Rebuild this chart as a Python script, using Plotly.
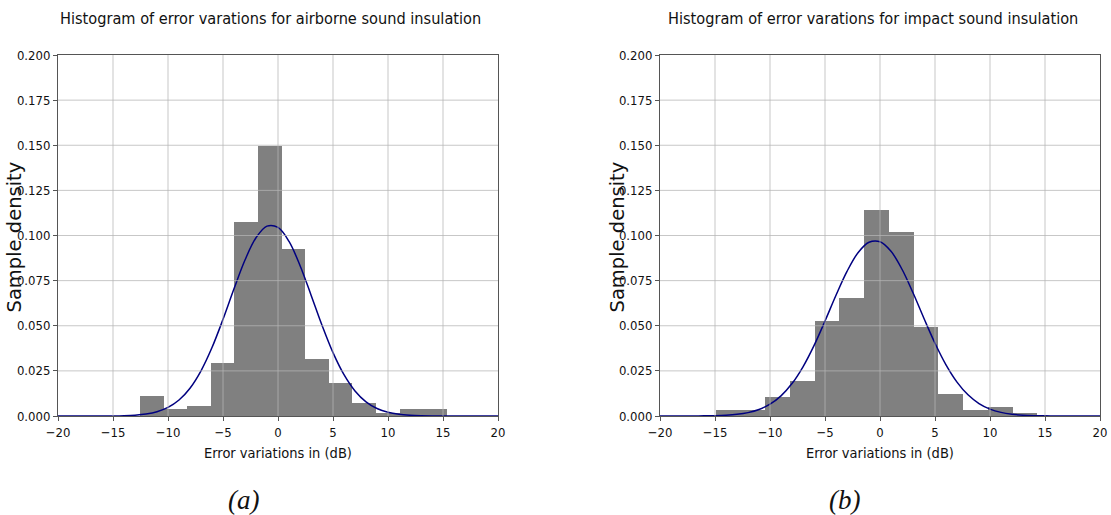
import numpy as np
import plotly.graph_objects as go

# ---------------- data ----------------
x_ticks = [-20, -15, -10, -5, 0, 5, 10, 15, 20]
y_ticks = [0.0, 0.025, 0.05, 0.075, 0.1, 0.125, 0.15, 0.175, 0.2]

# (a) airborne sound insulation histogram
airborne_bin_start = -12.55
airborne_bin_width = 2.145
airborne_density = [0.0111, 0.0037, 0.0055, 0.0295, 0.1073, 0.1498, 0.0927,
                    0.0314, 0.0185, 0.0074, 0.0015, 0.0037, 0.0037]

# (b) impact sound insulation histogram
impact_bin_start = -14.94
impact_bin_width = 2.25
impact_density = [0.0033, 0.0033, 0.0107, 0.0192, 0.0528, 0.0652, 0.1143,
                  0.1019, 0.0493, 0.0122, 0.0033, 0.0052, 0.0017]

# fitted curves
curve_x = list(range(-20, 21))
airborne_curve = [0.0, 0.0, 0.0, 0.0, 0.000025, 0.00006, 0.00019, 0.00047, 0.0011, 0.00236,
                  0.00473, 0.00884, 0.01541, 0.02505, 0.03793, 0.05355, 0.07045, 0.0864,
                  0.09875, 0.1052, 0.10447, 0.09669, 0.08341, 0.06707, 0.05027, 0.03511,
                  0.02287, 0.01387, 0.00785, 0.00414, 0.00203, 0.00093, 0.0004, 0.00016,
                  0.00006, 0.00002, 0.0, 0.0, 0.0, 0.0, 0.0]
impact_curve = [0.0, 0.0, 0.0, 0.000029, 0.000075, 0.00018, 0.00042, 0.00092, 0.00187, 0.0036,
                0.00653, 0.01116, 0.01796, 0.02727, 0.03901, 0.05261, 0.06686, 0.0801,
                0.09044, 0.09623, 0.09652, 0.09124, 0.08129, 0.06826, 0.05403, 0.04031,
                0.02833, 0.01878, 0.01173, 0.0069, 0.00383, 0.002, 0.00099, 0.00046,
                0.0002, 0.000083, 0.00003, 0.0, 0.0, 0.0, 0.0]

titles = ["Histogram of error varations for airborne sound insulation",
          "Histogram of error varations for impact sound insulation"]
x_label = "Error variations in (dB)"
y_label = "Sample density"
panel_labels = ["(a)", "(b)"]

# ---------------- figure ----------------
W, H = 1111, 515
NARROW = "Liberation Sans Narrow, DejaVu Sans Condensed, Arial Narrow, sans-serif"

fig = go.Figure()

panels = [
    (airborne_bin_start, airborne_bin_width, airborne_density, airborne_curve, "x", "y"),
    (impact_bin_start, impact_bin_width, impact_density, impact_curve, "x2", "y2"),
]
for start, width, dens, curve, xa, ya in panels:
    centers = start + width * (np.arange(len(dens)) + 0.5)
    fig.add_trace(go.Bar(x=centers, y=dens, width=width, marker_color="#808080",
                         marker_line_width=0, xaxis=xa, yaxis=ya, showlegend=False))
    fig.add_trace(go.Scatter(x=curve_x, y=curve, mode="lines", line_shape="spline",
                             line=dict(color="#000080", width=1.5),
                             xaxis=xa, yaxis=ya, showlegend=False))

x_domains = [[58 / W, 498 / W], [660 / W, 1100 / W]]
y_domain = [1 - 416 / H, 1 - 55 / H]

axis_common = dict(showline=True, mirror=True, linecolor="#555555", linewidth=1,
                   ticks="outside", ticklen=4, tickcolor="#555555", showgrid=False,
                   zeroline=False, automargin=False,
                   tickfont=dict(family=NARROW, size=13, color="#111111"))

layout = dict(width=W, height=H, margin=dict(l=0, r=0, t=0, b=0, autoexpand=False),
              plot_bgcolor="white", paper_bgcolor="white", bargap=0)
for i, dom in enumerate(x_domains):
    sfx = "" if i == 0 else str(i + 1)
    layout["xaxis" + sfx] = dict(domain=dom, range=[-20, 20], tickvals=x_ticks,
                                 anchor="y" + sfx, **axis_common)
    layout["yaxis" + sfx] = dict(domain=y_domain, range=[0, 0.2], tickvals=y_ticks,
                                 tickformat=".3f", anchor="x" + sfx, **axis_common)
fig.update_layout(**layout)

# grid lines drawn above bars (as in the reference)
shapes = []
for i in range(2):
    sfx = "" if i == 0 else str(i + 1)
    for xv in x_ticks[1:-1]:
        shapes.append(dict(type="line", xref="x" + sfx, yref="y" + sfx + " domain",
                           x0=xv, x1=xv, y0=0, y1=1, layer="above",
                           line=dict(color="rgba(180,180,180,0.75)", width=1)))
    for yv in y_ticks[1:-1]:
        shapes.append(dict(type="line", xref="x" + sfx + " domain", yref="y" + sfx,
                           x0=0, x1=1, y0=yv, y1=yv, layer="above",
                           line=dict(color="rgba(180,180,180,0.75)", width=1)))
fig.update_layout(shapes=shapes)

ann = []
title_x = [270.5, 872.5]
xlabel_x = [277.5, 880]
ylabel_x = [14, 617]
plabel_x = [243.5, 844]
for i in range(2):
    ann.append(dict(text=titles[i], x=title_x[i] / W, y=1 - 18 / H, xref="paper", yref="paper",
                    xanchor="center", yanchor="middle", showarrow=False,
                    font=dict(family=NARROW, size=16.2, color="#111111")))
    ann.append(dict(text=x_label, x=xlabel_x[i] / W, y=1 - 453 / H, xref="paper", yref="paper",
                    xanchor="center", yanchor="middle", showarrow=False,
                    font=dict(family=NARROW, size=14.5, color="#111111")))
    ann.append(dict(text=y_label, x=ylabel_x[i] / W, y=1 - 237.5 / H, xref="paper", yref="paper",
                    xanchor="center", yanchor="middle", showarrow=False, textangle=-90,
                    font=dict(family="DejaVu Sans", size=19.5, color="#111111")))
    ann.append(dict(text="<i>" + panel_labels[i] + "</i>", x=plabel_x[i] / W, y=1 - 500 / H,
                    xref="paper", yref="paper", xanchor="center", yanchor="middle",
                    showarrow=False,
                    font=dict(family="Liberation Serif, Times New Roman, serif", size=27,
                              color="#111111")))
fig.update_layout(annotations=ann)

fig.write_html("out.html")
